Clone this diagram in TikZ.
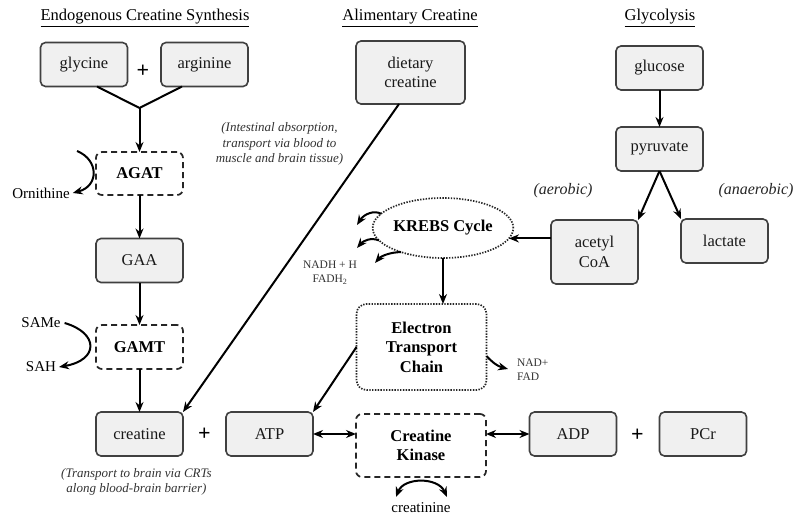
\documentclass[tikz,border=0pt]{standalone}
\usepackage{fontspec}
\setmainfont{Liberation Serif}
\usetikzlibrary{arrows.meta,shapes.geometric,calc}
\begin{document}
\begin{tikzpicture}[x=1pt,y=-1pt,
  every node/.style={inner sep=0pt, outer sep=0pt},
  box/.style={draw=black!75, fill=black!6, rounded corners=5pt, line width=1.6pt,
    minimum width=87pt, minimum height=44pt, align=center, text=black!90,
    font=\fontsize{16.5}{19.5}\selectfont},
  enz/.style={draw=black!85, rounded corners=6pt, line width=1.7pt,
    dash pattern=on 6pt off 4pt, align=center,
    font=\fontsize{16.5}{19.5}\selectfont\bfseries},
  dotted box/.style={draw=black!85, line width=1.7pt, dash pattern=on 1.4pt off 1.4pt,
    align=center, font=\fontsize{16.5}{19.5}\selectfont\bfseries},
  arr/.style={-{Stealth[length=10pt,width=8pt]}, line width=2pt},
  dbl/.style={{Stealth[length=10pt,width=8pt]}-{Stealth[length=10pt,width=8pt]}, line width=2pt},
  ln/.style={line width=2pt},
  title/.style={font=\fontsize{16.5}{19.5}\selectfont},
  note/.style={font=\fontsize{13}{15.5}\selectfont\itshape, text=black!80, align=center},
  side/.style={font=\fontsize{15}{18}\selectfont},
  small/.style={font=\fontsize{11.5}{14}\selectfont, text=black!80, align=left},
  plus/.style={font=\fontsize{22}{22}\selectfont\bfseries}
]
\useasboundingbox (0,0) rectangle (796,516);
\fill[white] (0,0) rectangle (796,516);

% titles
\node[title] (t1) at (145,18) {\underline{Endogenous Creatine Synthesis}};
\node[title] (t2) at (410,18) {\underline{Alimentary Creatine}};
\node[title] (t3) at (660,18) {\underline{Glycolysis}};

% endogenous column
\node[box] (gly) at (84,64.5) {glycine};
\node[box] (arg) at (204.5,64.5) {arginine};
\node[plus] (p1) at (143,71) {+};
\coordinate (J) at (139.5,108);
\node[enz, minimum width=87pt, minimum height=43pt] (agat) at (139.5,173.5) {AGAT};
\node[box] (gaa) at (139.5,260.5) {GAA};
\node[enz, minimum width=87pt, minimum height=44pt] (gamt) at (139.5,347) {GAMT};
\node[box] (cre) at (139.5,434) {creatine};
\node[side] (orn) at (41,193) {Ornithine};
\node[side] (same) at (41,323) {SAMe};
\node[side] (sah) at (41,367) {SAH};
\coordinate (ornS) at (77,151);

\draw[ln] ([xshift=13pt]gly.south) -- (J);
\draw[ln] ([xshift=-22.5pt]arg.south) -- (J);
\draw[arr] (J) -- (agat.north);
\draw[arr] (agat.south) -- (gaa.north);
\draw[arr] (gaa.south) -- (gamt.north);
\draw[arr] (gamt.south) -- (cre.north);
\draw[arr] (ornS) .. controls (99,160) and (99,186) .. ([xshift=3pt]orn.east);
\draw[arr] ([xshift=4pt]same.east) .. controls (99,333) and (99,360) .. ([xshift=3pt]sah.east);

% alimentary
\node[box, minimum width=109pt, minimum height=63pt] (diet) at (410.5,72.5) {dietary\\creatine};
\node[note] (intest) at (279.5,144) {(Intestinal absorption,\\transport via blood to\\muscle and brain tissue)};
\draw[arr] ([xshift=-11.5pt]diet.south) -- (cre.north east);
\node[note] (crt) at (136.5,482) {(Transport to brain via CRTs\\along blood-brain barrier)};

% bottom row
\node[plus] (p2) at (204.5,434) {+};
\node[box] (atp) at (269.5,434) {ATP};
\node[enz, minimum width=130pt, minimum height=63pt] (ck) at (421,445.5) {Creatine\\Kinase};
\node[box] (adp) at (573,434) {ADP};
\node[plus] (p3) at (637.5,435) {+};
\node[box] (pcr) at (703,434) {PCr};
\draw[dbl] (atp.east) -- (ck.west |- atp.east);
\draw[dbl] (ck.east |- adp.west) -- (adp.west);
\node[side, anchor=base] (crn) at (421,512) {creatinine};
\coordinate (cl) at (396,497);
\coordinate (cr) at (447,497);
\draw[dbl] (cl) .. controls (404,477) and (438,477) .. (cr);

% ETC
\node[dotted box, rounded corners=10pt, minimum width=130pt, minimum height=86pt] (etc) at (421.5,347) {Electron\\Transport\\Chain};
\draw[arr] (etc.west) -- (atp.north east);
\node[small, anchor=west] (nad) at (517,370) {NAD+\\FAD};
\draw[arr] ([yshift=-9pt]etc.east) .. controls (492,362) and (497,366) .. (508,369);

% Krebs
\node[dotted box, ellipse, minimum width=130pt, minimum height=60pt] (krebs) at (443,228) {KREBS Cycle};
\draw[arr] (krebs.south) -- (krebs.south |- etc.north);
\coordinate (k1) at (357,225);
\coordinate (k2) at (357,248);
\coordinate (k3) at (375,263);
\draw[arr] (krebs.167) .. controls (374,210) and (364,214) .. (k1);
\draw[arr] (krebs.191) .. controls (371,237) and (363,241) .. (k2);
\draw[arr] (krebs.210) .. controls (391,252) and (381,256) .. (k3);
\node[small, align=center] (nadh) at (330,273) {NADH + H\\FADH\textsubscript{2}};

% glycolysis
\node[box] (glu) at (659.5,68) {glucose};
\node[box] (pyr) at (659.5,149) {pyruvate};
\node[box, minimum height=64pt] (ac) at (594.5,252) {acetyl\\CoA};
\node[box] (lac) at (724.5,241) {lactate};
\node[font=\fontsize{16}{19}\selectfont\itshape, text=black!85] (aer) at (563,191) {(aerobic)};
\node[font=\fontsize{16}{19}\selectfont\itshape, text=black!85] (anaer) at (756,191) {(anaerobic)};
\draw[arr] (glu.south) -- (pyr.north);
\draw[arr] (pyr.south) -- (ac.north east);
\draw[arr] (pyr.south) -- (lac.north west);
\draw[arr] (ac.west |- krebs.-9) -- (krebs.-9);
\end{tikzpicture}
\end{document}
